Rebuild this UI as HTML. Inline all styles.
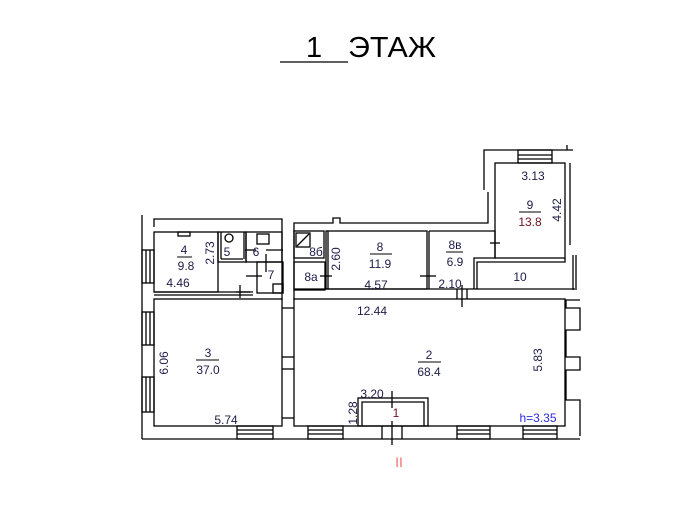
<!DOCTYPE html>
<html><head><meta charset="utf-8"><style>
body{margin:0;background:#fff;width:695px;height:512px;overflow:hidden}
svg{display:block}
text{font-family:"Liberation Sans",sans-serif;font-size:12px;fill:#1c1c48}
</style></head><body>
<svg width="695" height="512" viewBox="0 0 695 512" xmlns="http://www.w3.org/2000/svg">
<g fill="none" stroke="#000" stroke-width="1.3">
<line x1="280" y1="62" x2="348" y2="62"/>
<line x1="142" y1="215" x2="142" y2="439"/>
<line x1="142" y1="439" x2="580" y2="439"/>
<polyline points="154,227 154,219 282,219 282,227"/>
<polyline points="294,231 294,223 333,223 333,218 340,218 340,223 488,223 488,192"/>
<polyline points="484,190 484,150 573,150"/>
<line x1="567" y1="145" x2="567" y2="150"/>
<rect x="154" y="232" width="64" height="60"/>
<line x1="154" y1="295" x2="253" y2="295"/>
<line x1="154" y1="292" x2="253" y2="292"/>
<rect x="178" y="232" width="12" height="4"/>
<rect x="218" y="232" width="28" height="30"/>
<rect x="246" y="232" width="36" height="30"/>
<line x1="221" y1="232" x2="221" y2="259"/><line x1="221" y1="259" x2="243" y2="259"/>
<line x1="244" y1="232" x2="244" y2="259"/>
<rect x="257" y="234" width="12" height="10"/>
<circle cx="229" cy="238" r="4"/>
<rect x="257" y="262" width="26" height="31"/>
<rect x="273" y="284" width="10" height="9"/>
<line x1="282" y1="227" x2="282" y2="300"/>
<line x1="294" y1="231" x2="294" y2="300"/>
<rect x="294" y="231" width="30" height="27"/>
<rect x="296" y="233" width="14" height="14"/>
<line x1="297" y1="246" x2="309" y2="234"/>
<rect x="294" y="262" width="31" height="28"/>
<rect x="326" y="231" width="101" height="58"/>
<line x1="328" y1="231" x2="328" y2="289"/>
<line x1="429" y1="231" x2="429" y2="289"/>
<polyline points="429,231 495,231 495,258 474,258 474,289"/>
<line x1="294" y1="289" x2="575" y2="289"/>
<rect x="495" y="163" width="70" height="95"/>
<line x1="570" y1="163" x2="570" y2="245"/>
<rect x="518" y="150" width="34" height="13"/>
<line x1="518" y1="155" x2="552" y2="155"/><line x1="518" y1="159" x2="552" y2="159"/>
<polyline points="477,289 477,262 565,262 565,258"/>
<line x1="573" y1="255" x2="573" y2="290"/>
<line x1="576" y1="255" x2="576" y2="290"/>
<rect x="154" y="299" width="128" height="127"/>
<rect x="294" y="299" width="271" height="127"/>
<polyline points="580,300 566,300 566,308 580,308 580,330 566,330 566,357 580,357 580,370 566,370 566,400 580,400 580,436"/>
<rect x="358" y="398" width="70" height="28"/>
<polyline points="362,426 362,402 424,402 424,426"/>
<line x1="282" y1="308" x2="294" y2="308"/><line x1="282" y1="357" x2="294" y2="357"/>
<line x1="282" y1="369" x2="294" y2="369"/><line x1="282" y1="418" x2="294" y2="418"/>
<rect x="142" y="250" width="12" height="33"/><line x1="146" y1="250" x2="146" y2="283"/><line x1="150" y1="250" x2="150" y2="283"/>
<rect x="142" y="312" width="12" height="33"/><line x1="146" y1="312" x2="146" y2="345"/><line x1="150" y1="312" x2="150" y2="345"/>
<rect x="142" y="377" width="12" height="35"/><line x1="146" y1="377" x2="146" y2="412"/><line x1="150" y1="377" x2="150" y2="412"/>
<rect x="237" y="426" width="36" height="13"/><line x1="237" y1="430" x2="273" y2="430"/><line x1="237" y1="434" x2="273" y2="434"/>
<rect x="308" y="426" width="35" height="13"/><line x1="308" y1="430" x2="343" y2="430"/><line x1="308" y1="434" x2="343" y2="434"/>
<rect x="457" y="426" width="33" height="13"/><line x1="457" y1="430" x2="490" y2="430"/><line x1="457" y1="434" x2="490" y2="434"/>
<rect x="523" y="426" width="34" height="13"/><line x1="523" y1="430" x2="557" y2="430"/><line x1="523" y1="434" x2="557" y2="434"/>
<line x1="382" y1="426" x2="382" y2="439"/><line x1="402" y1="426" x2="402" y2="439"/>
<line x1="392" y1="421" x2="392" y2="445"/><line x1="392" y1="391" x2="392" y2="408"/>
<line x1="240" y1="285" x2="240" y2="298"/><line x1="236" y1="292" x2="250" y2="292"/>
<line x1="245" y1="250" x2="256" y2="250"/><line x1="266" y1="250" x2="283" y2="250"/>
<line x1="266" y1="254" x2="266" y2="272"/><line x1="246" y1="276" x2="262" y2="276"/>
<line x1="320" y1="276" x2="332" y2="276"/><line x1="420" y1="276" x2="436" y2="276"/>
<line x1="490" y1="243" x2="500" y2="243"/><line x1="462" y1="285" x2="462" y2="307"/>
<line x1="457" y1="289" x2="457" y2="299"/><line x1="467" y1="289" x2="467" y2="299"/>
</g>
<text x="306" y="57" style="font-size:29px;fill:#000">1</text>
<text x="348" y="57" style="font-size:29px;fill:#000" textLength="88" lengthAdjust="spacingAndGlyphs">ЭТАЖ</text>
<g text-anchor="middle">
<text x="184" y="254">4</text><line x1="177" y1="257" x2="192" y2="257" stroke="#000"/><text x="186" y="270">9.8</text>
<text x="178" y="287">4.46</text>
<text transform="translate(214,253) rotate(-90)">2.73</text>
<text x="227" y="256">5</text><text x="256" y="256">6</text><text x="271" y="279">7</text>
<text x="316" y="256">8б</text><text x="311" y="281">8a</text>
<text transform="translate(340,259) rotate(-90)">2.60</text>
<text x="380" y="251">8</text><line x1="370" y1="254" x2="392" y2="254" stroke="#000"/><text x="380" y="268">11.9</text>
<text x="376" y="289">4.57</text>
<text x="455" y="249">8в</text><line x1="446" y1="252" x2="463" y2="252" stroke="#000"/><text x="455" y="266">6.9</text>
<text x="450" y="288">2.10</text>
<text x="533" y="180">3.13</text>
<text x="530" y="209">9</text><line x1="519" y1="212" x2="541" y2="212" stroke="#000"/><text x="530" y="226" style="fill:#6a1020">13.8</text>
<text transform="translate(561,210) rotate(-90)">4.42</text>
<text x="520" y="281">10</text>
<text x="372" y="315">12.44</text>
<text x="208" y="357">3</text><line x1="196" y1="360" x2="219" y2="360" stroke="#000"/><text x="208" y="374">37.0</text>
<text transform="translate(168,363) rotate(-90)">6.06</text>
<text x="226" y="424">5.74</text>
<text x="429" y="359">2</text><line x1="418" y1="362" x2="441" y2="362" stroke="#000"/><text x="429" y="376">68.4</text>
<text transform="translate(542,360) rotate(-90)">5.83</text>
<text x="372" y="398">3.20</text>
<text transform="translate(357,413) rotate(-90)">1.28</text>
<text x="396" y="417" style="fill:#6a1020">1</text>
<text x="538" y="422" style="fill:#2a2ae0">h=3.35</text>
<text x="399" y="467" style="fill:#f07070;font-size:14px">II</text>
</g>
</svg>
</body></html>
